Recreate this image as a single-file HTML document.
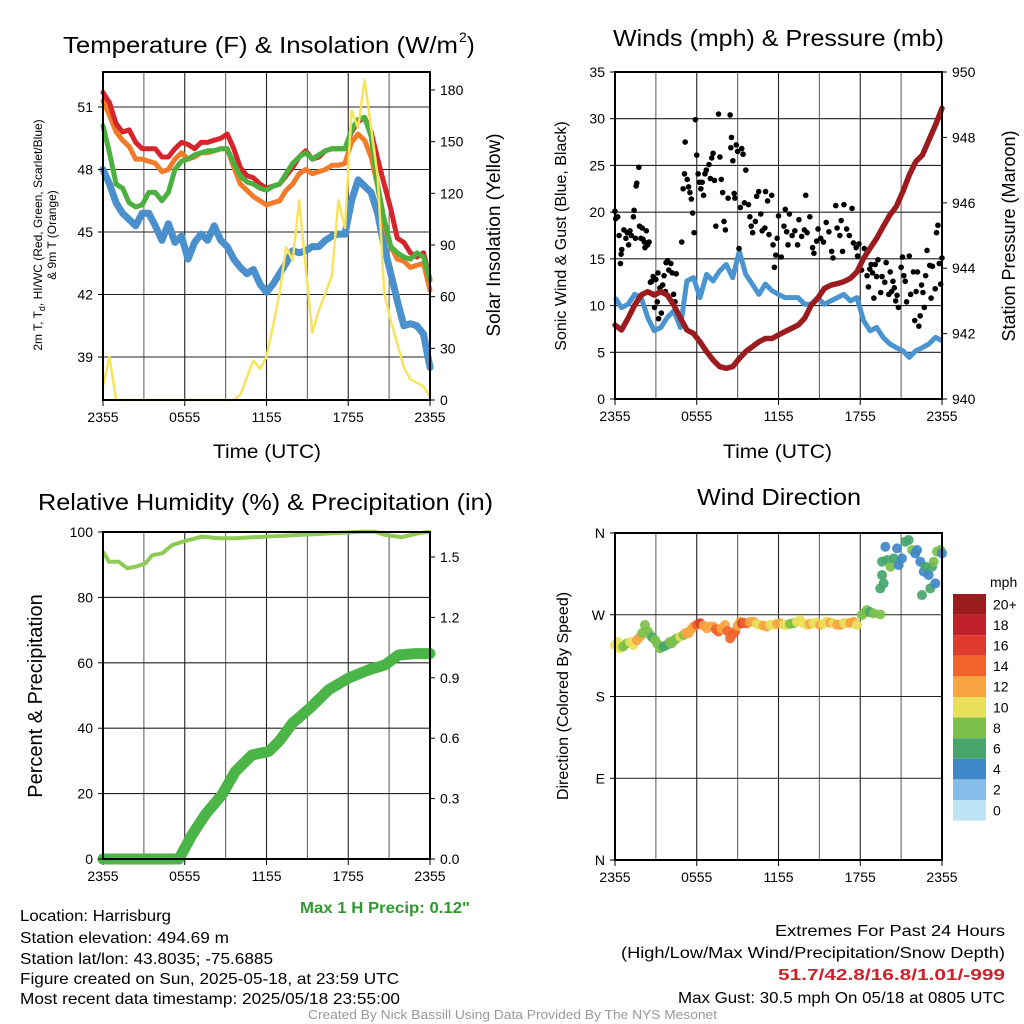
<!DOCTYPE html>
<html><head><meta charset="utf-8"><style>
html,body{margin:0;padding:0;background:#fff;}
svg{display:block;font-family:"Liberation Sans",sans-serif;}
</style></head><body>
<svg id="fig" width="1024" height="1024" viewBox="0 0 1024 1024" xmlns="http://www.w3.org/2000/svg">
<rect width="1024" height="1024" fill="#fff"/>
<g id="g1"></g>
<g id="g2"></g>
<g id="g3"></g>
<g id="g4"></g>
<g font-size="23" fill="#000">
<text x="63" y="53" textLength="395" lengthAdjust="spacingAndGlyphs">Temperature (F) &amp; Insolation (W/m</text>
<text x="459" y="42" font-size="14">2</text>
<text x="467" y="53">)</text>
<text x="613" y="46" textLength="331" lengthAdjust="spacingAndGlyphs">Winds (mph) &amp; Pressure (mb)</text>
<text x="38" y="510" textLength="455" lengthAdjust="spacingAndGlyphs">Relative Humidity (%) &amp; Precipitation (in)</text>
<text x="697" y="505" textLength="164" lengthAdjust="spacingAndGlyphs">Wind Direction</text>
</g>
<g fill="#000">
<text x="213" y="458" font-size="19" textLength="108" lengthAdjust="spacingAndGlyphs">Time (UTC)</text>
<text x="723" y="458" font-size="19" textLength="109" lengthAdjust="spacingAndGlyphs">Time (UTC)</text>
<text transform="translate(42,235) rotate(-90)" text-anchor="middle" font-size="12">2m T, T<tspan font-size="9" dy="3">d</tspan><tspan dy="-3">, HI/WC (Red, Green, Scarlet/Blue)</tspan></text>
<text transform="translate(56,235) rotate(-90)" text-anchor="middle" font-size="12">&amp; 9m T (Orange)</text>
<text transform="translate(500,235) rotate(-90)" text-anchor="middle" font-size="19">Solar Insolation (Yellow)</text>
<text transform="translate(566,236) rotate(-90)" text-anchor="middle" font-size="16">Sonic Wind &amp; Gust (Blue, Black)</text>
<text transform="translate(1015,236) rotate(-90)" text-anchor="middle" font-size="18">Station Pressure (Maroon)</text>
<text transform="translate(42,696) rotate(-90)" text-anchor="middle" font-size="20">Percent &amp; Precipitation</text>
<text transform="translate(568,696) rotate(-90)" text-anchor="middle" font-size="16">Direction (Colored By Speed)</text>
</g>
<g font-size="16" fill="#000">
<text x="300" y="913" fill="#2e9a2e" font-weight="bold" textLength="170" lengthAdjust="spacingAndGlyphs">Max 1 H Precip: 0.12"</text>
<text x="20" y="921" textLength="151" lengthAdjust="spacingAndGlyphs">Location: Harrisburg</text>
<text x="20" y="943" textLength="209" lengthAdjust="spacingAndGlyphs">Station elevation: 494.69 m</text>
<text x="20" y="964" textLength="253" lengthAdjust="spacingAndGlyphs">Station lat/lon: 43.8035; -75.6885</text>
<text x="20" y="984" textLength="379" lengthAdjust="spacingAndGlyphs">Figure created on Sun, 2025-05-18, at 23:59 UTC</text>
<text x="20" y="1004" textLength="380" lengthAdjust="spacingAndGlyphs">Most recent data timestamp: 2025/05/18 23:55:00</text>
<text x="775" y="936" textLength="230" lengthAdjust="spacingAndGlyphs">Extremes For Past 24 Hours</text>
<text x="621" y="958" textLength="384" lengthAdjust="spacingAndGlyphs">(High/Low/Max Wind/Precipitation/Snow Depth)</text>
<text x="778" y="980" fill="#d0202a" font-weight="bold" textLength="227" lengthAdjust="spacingAndGlyphs">51.7/42.8/16.8/1.01/-999</text>
<text x="678" y="1003" textLength="327" lengthAdjust="spacingAndGlyphs">Max Gust: 30.5 mph On 05/18 at 0805 UTC</text>
<text x="308" y="1019" font-size="13" fill="#999" textLength="409" lengthAdjust="spacingAndGlyphs">Created By Nick Bassill Using Data Provided By The NYS Mesonet</text>
</g>
</svg>
<script>
// ---- data ----
const xTickLabels = ["2355","0555","1155","1755","2355"];
const xTickHours = [0,6,12,18,24];
const tempTicks = [39,42,45,48,51];
const insoTicks = [0,30,60,90,120,150,180];
const windTicks = [0,5,10,15,20,25,30,35];
const presTicks = [940,942,944,946,948,950];
const rhTicks = [0,20,40,60,80,100];
const precipTicks = [0,0.3,0.6,0.9,1.2,1.5];
const dirTicks = [0,90,180,270,360];
const dirTickLabels = ["N","E","S","W","N"];
const speedBins = ["0","2","4","6","8","10","12","14","16","18","20+"];
const speedColors = ["#bfe4f7","#85bde8","#3f87c7","#47a56c","#7cc04a","#e9df5a","#f7a541","#f0642c","#e03a2e","#c0202a","#9b1b1e"];

const tempRed = [51.7,51.2,50.2,49.8,49.9,49.3,49.0,49.0,49.0,48.6,48.6,49.0,49.3,49.2,49.0,49.3,49.3,49.4,49.5,49.7,49.0,48.1,47.7,47.6,47.3,47.1,47.2,47.3,47.7,48.1,48.6,48.9,48.5,48.6,48.9,49.0,49.0,49.0,49.8,50.3,50.5,49.8,48.5,47.3,46.1,44.7,44.5,44.0,43.8,44.0,42.7];
const tempOrange = [51.3,50.6,49.8,49.4,49.1,48.5,48.5,48.4,48.3,47.9,48.0,48.5,48.8,48.5,48.6,48.8,48.8,48.9,49.0,49.0,48.1,47.3,47.0,46.7,46.5,46.3,46.4,46.5,47.0,47.3,47.8,48.0,47.8,47.9,48.0,48.2,48.2,48.3,49.3,49.7,49.4,48.6,47.2,45.3,44.3,43.7,43.6,43.3,43.4,43.5,42.2];
const tempGreen = [50.1,48.8,47.3,47.1,46.4,46.2,46.3,46.9,46.9,46.5,46.9,48.0,48.4,48.5,48.7,48.8,48.9,48.9,49.0,49.0,48.3,47.7,47.4,47.3,47.1,47.0,47.2,47.3,47.8,48.3,48.6,48.8,48.5,48.7,48.9,49.0,49.0,49.0,49.9,50.4,50.5,49.6,47.2,45.6,44.3,44.0,43.8,43.7,44.0,43.8,42.7];
const tempDew = [48.0,47.3,46.4,45.9,45.6,45.3,45.9,45.9,45.3,44.6,45.4,44.5,44.8,43.7,44.5,44.9,44.6,45.3,44.6,44.3,43.7,43.3,43.0,43.2,42.5,42.1,42.5,43.0,43.5,44.1,44.0,44.1,44.3,44.3,44.6,44.8,44.9,44.9,46.5,47.5,47.2,46.9,45.9,44.3,43.0,41.7,40.5,40.6,40.5,40.1,38.5];
const insolation = [8,25,0,0,0,0,0,0,0,0,0,0,0,0,0,0,0,0,0,0,0,3,13,23,18,25,43,62,89,81,116,77,39,52,62,72,116,100,168,158,186,158,130,62,46,33,19,12,10,8,2];

const windSpeed = [10.85,9.78,10.14,11.2,10.85,8.72,7.3,7.65,8.72,9.43,7.65,12.63,12.99,10.85,13.34,12.63,13.7,14.4,12.99,15.8,13.34,12.3,11.2,12.3,11.6,11.2,10.85,10.85,10.85,10.14,10.14,10.85,10.14,10.5,10.85,11.2,10.5,10.85,8.4,7.3,7.65,6.6,5.9,5.5,5.16,4.45,5.16,5.5,5.9,6.6,6.23];
const pressure = [942.26,942.11,942.47,942.87,943.18,943.28,943.18,943.28,943.18,942.87,942.47,942.11,942.0,941.75,941.45,941.19,940.99,940.94,940.99,941.24,941.45,941.6,941.75,941.85,941.85,941.96,942.06,942.16,942.26,942.47,942.87,943.08,943.38,943.48,943.53,943.59,943.69,943.89,944.3,944.61,944.91,945.27,945.62,945.88,946.34,946.85,947.26,947.46,947.92,948.38,948.89];
const gustHours = [0,0.05,0.2,0.3,0.4,0.45,0.5,0.65,0.8,0.9,1.0,1.1,1.2,1.35,1.4,1.5,1.55,1.6,1.75,1.8,1.9,2.0,2.05,2.15,2.2,2.3,2.4,2.5,2.6,2.7,2.8,2.9,2.95,3.0,3.1,3.15,3.2,3.3,3.4,3.5,3.6,3.7,3.75,3.85,3.95,4.1,4.2,4.3,4.4,4.5,4.9,5.0,5.1,5.15,5.3,5.4,5.5,5.6,5.7,5.8,5.9,6.0,6.1,6.2,6.3,6.4,6.5,6.6,6.7,6.9,7.0,7.1,7.2,7.3,7.4,7.6,7.7,7.8,7.9,8.0,8.1,8.3,8.45,8.5,8.55,8.65,8.75,8.8,8.9,9.0,9.1,9.2,9.3,9.4,9.5,9.6,9.8,9.9,10.0,10.1,10.3,10.4,10.55,10.7,10.8,11.0,11.05,11.2,11.3,11.5,11.6,11.7,11.8,11.9,12.0,12.2,12.4,12.5,12.6,12.7,12.8,13.0,13.2,13.4,13.5,13.7,13.9,14.0,14.1,14.3,14.5,14.6,14.8,14.9,15.1,15.3,15.5,15.7,15.9,16.0,16.2,16.3,16.5,16.6,16.7,16.8,17.0,17.2,17.4,17.5,17.7,17.8,17.9,18.1,18.3,18.5,18.6,18.7,18.8,18.9,19.0,19.1,19.2,19.3,19.5,19.6,19.8,19.9,20.1,20.2,20.3,20.4,20.5,20.6,20.7,20.8,21.0,21.1,21.2,21.3,21.4,21.6,21.7,21.9,22.0,22.1,22.2,22.3,22.4,22.5,22.6,22.7,22.8,22.9,23.1,23.2,23.3,23.5,23.6,23.7,23.8,23.9,24];
const gustSpeeds = [20.1,19.3,19.5,17.5,14.5,15.5,16,18.1,17.2,17.8,16.5,18,17.5,19.5,20.2,17.2,22.8,23.1,24.8,18.5,17.2,18.3,17.1,16.8,16.2,18,16.5,16.8,12.5,12.6,13.1,9.8,11.2,12.8,10.4,13.5,8.6,11.9,9.2,12.2,13.2,11.5,14.6,14.8,13.8,14.5,13.5,11.2,10.4,13.4,16.8,22.5,24.1,27.5,23.5,22.7,22.1,21.4,19.9,17.8,29.9,26.1,24.1,23.2,22.5,23.2,21.8,24.1,24.5,25.1,23.6,25.8,26.3,23.4,18.5,30.5,25.9,23.5,22.1,19,18.1,21.5,30.4,26.9,28,25.5,22,21.5,27.2,26.5,16.1,20.5,26.8,26.2,21,24.5,20.8,19.5,18.5,17.8,19,21.7,22.2,19.8,18,18.3,22.2,21.2,17.6,21.8,16.5,14.1,15.4,17.2,19.6,15.2,18.5,20.3,17.9,16.5,19.8,17.5,18,16.5,19.2,17.4,18.1,21.8,17.8,19.5,16.2,15.6,16.9,18.2,17.2,16.8,18.9,17.9,15.8,15.1,20.7,18.3,17.5,19.1,15.8,20.8,18.2,17.5,20.4,16.7,16.2,15.3,16.6,13.8,16.1,13.2,12,13.9,14.4,13.5,10.8,14.4,13.1,14.9,11.4,13.1,12.5,14.6,11.2,13.6,11.5,12.6,11.9,10.5,11.1,9.8,14.1,15.2,13.2,12.6,10.4,15.3,11.2,13.6,8.4,11.5,13.6,7.8,8.9,12.2,11.4,9.8,13.2,15.9,14.3,10.8,14.2,11.8,17.8,18.6,14.5,12.3,15.1];

const rhHours = [0,0.44,1.17,1.78,2.39,3.12,3.61,4.35,5.08,5.81,7.27,8.49,9.72,11.91,19.0,19.97,20.7,21.92,23.14,24];
const rhValues = [94.0,90.9,90.9,88.9,89.4,90.4,92.9,93.5,96.0,97.0,98.6,98.1,98.1,98.6,100.1,100.1,99.1,98.4,99.6,100.1];
const precipHours = [0,5.57,6.54,7.5,8.74,9.72,10.94,12.16,12.9,13.9,15.3,16.55,18.0,19.5,20.7,21.7,22.9,24];
const precipValues = [0,0,0.12,0.22,0.32,0.435,0.517,0.534,0.583,0.674,0.757,0.84,0.898,0.939,0.964,1.013,1.02,1.02];

const dirHours = [0,0.2,0.37,0.6,0.86,1.1,1.35,1.6,1.84,2.0,2.2,2.4,2.57,2.75,2.94,3.1,3.31,3.55,3.8,4.0,4.16,4.35,4.53,4.8,5.02,5.2,5.39,5.6,5.76,6.0,6.25,6.5,6.74,7.0,7.22,7.4,7.59,7.8,8.08,8.25,8.45,8.6,8.82,9.0,9.18,9.31,9.5,9.67,9.9,10.16,10.4,10.65,10.9,11.14,11.4,11.63,11.9,12.12,12.4,12.61,12.85,13.1,13.35,13.59,13.8,14.08,14.3,14.57,14.8,15.06,15.3,15.55,15.8,16.04,16.3,16.53,16.8,17.02,17.25,17.51,17.76,18.12,18.3,18.49,18.7,18.98,19.47,19.47,19.72,19.6,19.6,19.84,19.96,20.21,20.45,20.82,20.7,21.06,21.31,21.55,21.8,22.04,22.17,22.41,22.66,22.78,23.02,23.27,23.39,22.53,23.14,23.51,23.63,23.88,24];
const dirDegrees = [236.7,240,233,235,238.5,240,236.7,242,245.8,250,258.7,252,247.7,245,242.2,238,233,235,236.7,240,238.5,242,244,246,247.7,250,249.6,254,256.9,259,260.6,258,255,257,256.9,254,251.4,255,258.7,252,244,248,251.4,258,262.3,260.6,261,260.6,262,262.3,260,258.7,258,256.9,259,258.7,260,260.6,259,258.7,260,260.6,262,264.1,261,258.7,260,260.6,261,258.7,260,262.3,261,260.6,259,258.7,261,260.6,261,262.3,258.7,269.6,272,275.1,273,271.5,270.4,299,304.5,313.7,328.4,344.9,330.2,322.9,332,324.7,343.1,332,350.4,352.3,341.3,337.6,341.3,328.4,317.5,322.9,313.7,322.9,328.4,291.7,299,304.5,339.5,341.3,337.6];
const dirSpeeds = [10.5,10.5,10.5,9.5,8.5,10.5,10.5,12.5,12.5,8.5,8.5,8.5,8.5,6.5,8.5,8.5,8.5,6.5,6.5,8.5,8.5,8.5,8.5,10.5,8.5,12.5,12.5,12.5,12.5,14.5,16.5,12.5,12.5,12.5,12.5,14.5,14.5,12.5,12.5,14.5,14.5,14.5,14.5,12.5,12.5,16.5,14.5,14.5,12.5,12.5,10.5,10.5,12.5,12.5,10.5,10.5,12.5,12.5,10.5,10.5,8.5,8.5,10.5,10.5,10.5,10.5,12.5,10.5,10.5,12.5,10.5,10.5,12.5,10.5,12.5,12.5,10.5,10.5,12.5,12.5,10.5,8.5,8.5,8.5,6.5,8.5,8.5,6.5,6.5,6.5,6.5,4.5,6.5,8.5,6.5,4.5,4.5,4.5,6.5,6.5,8.5,4.5,4.5,4.5,4.5,6.5,4.5,6.5,8.5,6.5,6.5,4.5,8.5,8.5,4.5];

// ---- helpers ----
const NS="http://www.w3.org/2000/svg";
function mk(parent,tag,attrs){const e=document.createElementNS(NS,tag);for(const k in attrs)e.setAttribute(k,attrs[k]);parent.appendChild(e);return e;}
function lin(d0,d1,r0,r1){return v=>r0+(v-d0)/(d1-d0)*(r1-r0);}
function pathD(xs,ys,fx,fy){return xs.map((x,i)=>(i?"L":"M")+fx(x).toFixed(1)+","+fy(ys[i]).toFixed(1)).join("");}
function evenHours(n){const a=[];for(let i=0;i<n;i++)a.push(i*24/(n-1));return a;}

function frame(g,L,R,T,B,xs,hLines){
  const grid=mk(g,"g",{});
  
  
  for(let h=3;h<24;h+=3){const x=xs(h);mk(grid,"line",{x1:x,x2:x,y1:T,y2:B,stroke:h%6?"#666":"#222","stroke-width":1.1});}
  hLines.forEach(y=>mk(grid,"line",{x1:L,x2:R,y1:y,y2:y,stroke:"#222","stroke-width":1.1}));
  const xt=mk(g,"g",{"font-size":14,"text-anchor":"middle"});
  
  
  xTickHours.forEach((h,i)=>{const x=xs(h);mk(xt,"line",{x1:x,x2:x,y1:B,y2:B+6,stroke:"#000"});const t=mk(xt,"text",{x:x,y:B+22});t.textContent=xTickLabels[i];});
}
function border(g,L,R,T,B){mk(g,"rect",{x:L,y:T,width:R-L,height:B-T,fill:"none",stroke:"#000","stroke-width":2});}
function yTicks(g,vals,fy,x,side,fmt,name){
  const gg=mk(g,"g",{"font-size":14,"text-anchor":side<0?"end":"start"});
  
  
  vals.forEach((v,i)=>{const y=fy(v);mk(gg,"line",{x1:x,x2:x+side*5,y1:y,y2:y,stroke:"#000"});const t=mk(gg,"text",{x:x+side*10,y:y+5});t.textContent=fmt(v,i);});
}

// ---- panel 1 ----
(function(){
  const g=document.getElementById("g1");const L=103,R=430,T=72,B=400;
  const xs=lin(0,24,L,R), yT=lin(39,51,357,107), yS=lin(0,180,400,90);
  frame(g,L,R,T,B,xs,tempTicks.map(yT));
  const hrs=evenHours(tempRed.length);
  const series=[["dewpoint-line",tempDew,"#4a90cc",7],["orange-9m-temp-line",tempOrange,"#f27b2a",5],["red-temp-line",tempRed,"#d7262b",5],["green-hiwc-line",tempGreen,"#4cb040",5]];
  series.forEach(s=>{const p=mk(g,"path",{d:pathD(hrs,s[1],xs,yT),fill:"none",stroke:s[2],"stroke-width":s[3],"stroke-linejoin":"round","stroke-linecap":"round"});
    
    });
  const ih=evenHours(insolation.length);
  const yp=mk(g,"path",{d:pathD(ih,insolation,xs,yS),fill:"none",stroke:"#f8e45c","stroke-width":2.5,"stroke-linejoin":"round"});
  
  
  border(g,L,R,T,B);
  yTicks(g,tempTicks,yT,L,-1,v=>v,"left-y-ticks");
  yTicks(g,insoTicks,yS,R,1,v=>v,"right-y-ticks");
})();

// ---- panel 2 ----
(function(){
  const g=document.getElementById("g2");const L=615,R=942,T=72,B=399;
  const xs=lin(0,24,L,R), yW=lin(0,35,B,T), yP=lin(940,950,B,T);
  frame(g,L,R,T,B,xs,windTicks.slice(1,-1).map(yW));
  const hrs=evenHours(windSpeed.length);
  const w=mk(g,"path",{d:pathD(hrs,windSpeed,xs,yW),fill:"none",stroke:"#4a95d0","stroke-width":5,"stroke-linejoin":"round"});
  
  
  const gd=mk(g,"g",{fill:"#000"});
  
  
  gustHours.forEach((h,i)=>{const c=mk(gd,"circle",{cx:xs(h),cy:yW(gustSpeeds[i]),r:2.8});
    
    });
  const ph=evenHours(pressure.length);
  const p=mk(g,"path",{d:pathD(ph,pressure,xs,yP),fill:"none",stroke:"#9b1b1e","stroke-width":5.5,"stroke-linejoin":"round","stroke-linecap":"round"});
  
  
  border(g,L,R,T,B);
  yTicks(g,windTicks,yW,L,-1,v=>v,"left-y-ticks");
  yTicks(g,presTicks,yP,R,1,v=>v,"right-y-ticks");
})();

// ---- panel 3 ----
(function(){
  const g=document.getElementById("g3");const L=103,R=430,T=532,B=859;
  const xs=lin(0,24,L,R), yR=lin(0,100,B,T), yPr=lin(0,1.5,B,557);
  frame(g,L,R,T,B,xs,rhTicks.slice(1,-1).map(yR));
  const rh=mk(g,"path",{d:pathD(rhHours,rhValues,xs,yR),fill:"none",stroke:"#8fcb55","stroke-width":4,"stroke-linejoin":"round"});
  
  
  const pr=mk(g,"path",{d:pathD(precipHours,precipValues,xs,yPr),fill:"none",stroke:"#4ab446","stroke-width":11,"stroke-linejoin":"round","stroke-linecap":"round"});
  
  
  border(g,L,R,T,B);
  yTicks(g,rhTicks,yR,L,-1,v=>v,"left-y-ticks");
  yTicks(g,precipTicks,yPr,R,1,v=>v.toFixed(1),"right-y-ticks");
})();

// ---- panel 4 ----
(function(){
  const g=document.getElementById("g4");const L=615,R=942,T=533,B=860;
  const xs=lin(0,24,L,R), yD=lin(0,360,B,T);
  frame(g,L,R,T,B,xs,[90,180,270].map(yD));
  const dg=mk(g,"g",{});
  
  
  dirHours.forEach((h,i)=>{const s=dirSpeeds[i];const idx=Math.min(10,Math.floor(s/2));
    const c=mk(dg,"circle",{cx:xs(h),cy:yD(dirDegrees[i]),r:5,fill:speedColors[idx],"fill-opacity":0.92});
    
    });
  border(g,L,R,T,B);
  yTicks(g,dirTicks,yD,L,-1,(v,i)=>dirTickLabels[i],"left-y-ticks");
  const cb=mk(g,"g",{"font-size":14});
  
  
  const top=594,hgt=20.6;
  const mt=mk(cb,"text",{x:990,y:587});mt.textContent="mph";
  for(let k=10;k>=0;k--){const y=top+(10-k)*hgt;
    const r=mk(cb,"rect",{x:953,y:y,width:33,height:hgt,fill:speedColors[k]});
    
    
    const t=mk(cb,"text",{x:993,y:y+hgt/2+5});t.textContent=speedBins[k];}
})();
</script>
</body></html>
